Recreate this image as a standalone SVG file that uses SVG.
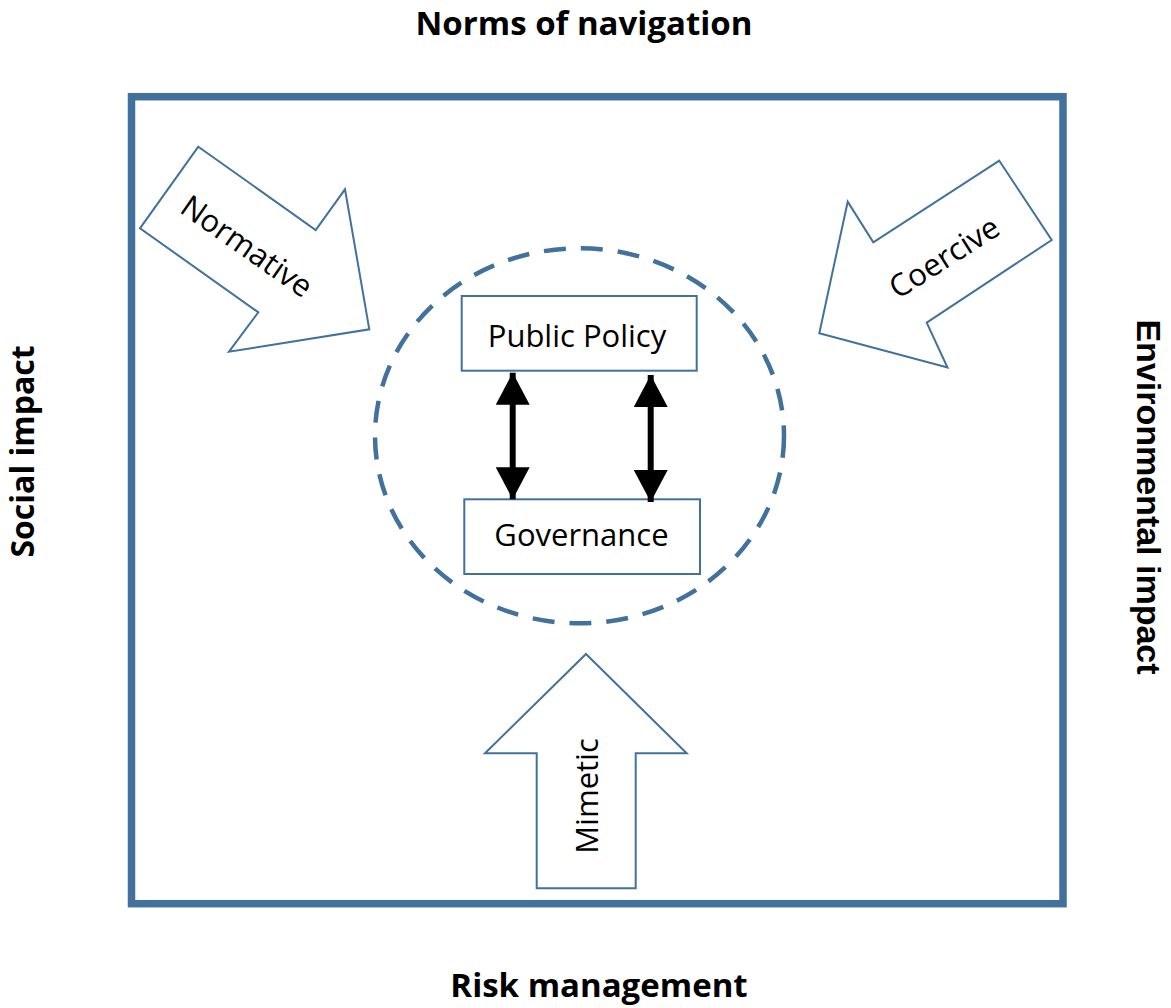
<svg xmlns="http://www.w3.org/2000/svg" width="1171" height="1008" viewBox="0 0 1171 1008">
  <style>
    .frame { fill: none; stroke: #41719C; stroke-width: 7.5; }
    .shape { fill: #FFFFFF; stroke: #41719C; stroke-width: 2; stroke-linejoin: miter; }
    .dash { fill: none; stroke: #41719C; stroke-width: 4.5; stroke-dasharray: 22 15; }
    .lbl { font-family: "Open Sans", "Liberation Sans", sans-serif; font-size: 31px; fill: #000000; text-anchor: middle; }
    .side { font-family: "Open Sans", "Liberation Sans", sans-serif; font-weight: bold; font-size: 33px; fill: #000000; text-anchor: middle; }
    .env { font-family: "Liberation Sans", Arial, sans-serif; font-weight: bold; font-size: 34px; fill: #000000; text-anchor: middle; }
    .conn { stroke: #000000; stroke-width: 6; fill: none; marker-start: url(#head); marker-end: url(#head); }
  </style>
  <defs>
    <marker id="head" viewBox="0 0 32 34" refX="32" refY="17" markerWidth="32" markerHeight="34" markerUnits="userSpaceOnUse" orient="auto-start-reverse">
      <path d="M0,0 L32,17 L0,34 Z" fill="#000000"/>
    </marker>
  </defs>
  <rect width="1171" height="1008" fill="#FFFFFF"/>

  <g id="frame">
    <rect class="frame" x="131.5" y="96.7" width="931.5" height="807"/>
  </g>

  <g id="side-labels">
    <text id="norms-of-navigation" class="side" x="584" y="35">Norms of navigation</text>
    <text id="risk-management" class="side" x="599" y="997">Risk management</text>
    <text id="social-impact" class="side" style="font-size:32px" transform="translate(34,451.5) rotate(-90)" x="0" y="0">Social impact</text>
    <text id="environmental-impact" class="env" transform="translate(1137,497) rotate(90)" x="0" y="0">Environmental impact</text>
  </g>

  <g id="normative">
    <polygon class="shape" points="198.3,146.7 315.7,230 345,189.3 369.3,329.3 229,351.7 258.3,312.3 140,228.3"/>
    <text class="lbl" transform="translate(247,246) rotate(35)" x="0" y="0" dy="0.36em">Normative</text>
  </g>

  <g id="coercive">
    <polygon class="shape" points="999.3,160.7 1051.7,240 926.7,322.7 947.5,367.5 819.3,333.3 847.7,201.7 873.3,242.3"/>
    <text class="lbl" transform="translate(944,257) rotate(-32.5)" x="0" y="0" dy="0.36em">Coercive</text>
  </g>

  <g id="mimetic">
    <polygon class="shape" points="586,654 686.7,753.3 635.7,753.3 635.7,888.3 536.7,888.3 536.7,753.3 485,753.3"/>
    <text class="lbl" transform="translate(587,796) rotate(-90)" x="0" y="0" dy="0.36em">Mimetic</text>
  </g>

  <g id="boundary">
    <ellipse class="dash" cx="579.5" cy="435.8" rx="204.5" ry="187.5"/>
  </g>

  <g id="public-policy">
    <rect class="shape" x="461.7" y="296" width="235" height="74.7"/>
    <text class="lbl" x="577" y="347">Public Policy</text>
  </g>

  <g id="governance">
    <rect class="shape" x="464.3" y="499.3" width="235.7" height="74.7"/>
    <text class="lbl" x="581.5" y="546">Governance</text>
  </g>

  <g id="connectors">
    <line class="conn" x1="512.7" y1="372.7" x2="512.7" y2="499.3"/>
    <line class="conn" x1="650.7" y1="375" x2="650.7" y2="502"/>
  </g>
</svg>
